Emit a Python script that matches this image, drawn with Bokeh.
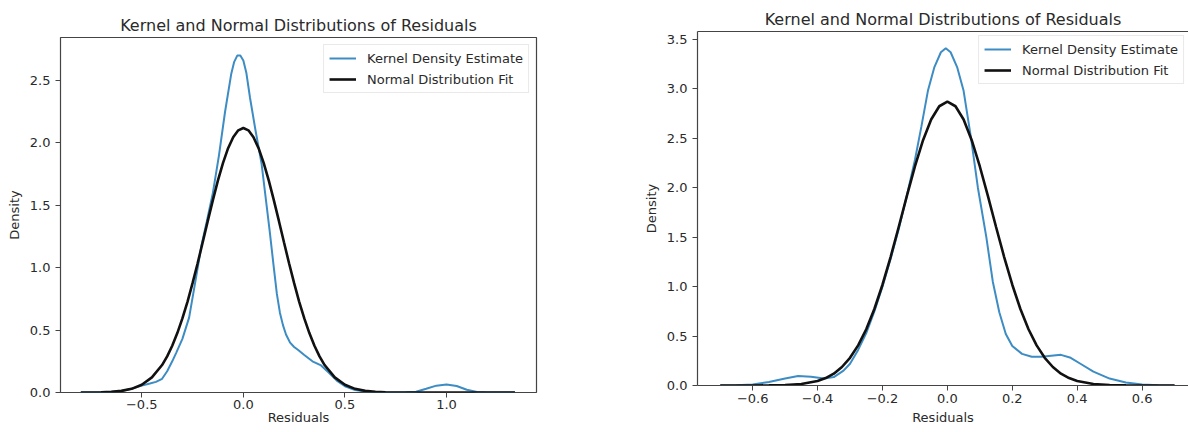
from bokeh.plotting import figure
from bokeh.layouts import row
from bokeh.models import FixedTicker, LinearAxis, Legend, LegendItem, Range1d
from bokeh.embed import file_html
from bokeh.resources import INLINE

# ---------------- data ----------------
title_text = "Kernel and Normal Distributions of Residuals"
x_label = "Residuals"
y_label = "Density"
legend_labels = ["Kernel Density Estimate", "Normal Distribution Fit"]

# left panel
left_kde_x = [-0.80, -0.70, -0.65, -0.60, -0.55, -0.50, -0.46, -0.43, -0.40, -0.375,
              -0.35, -0.33, -0.30, -0.267, -0.235, -0.206, -0.18, -0.15, -0.12, -0.09,
              -0.06, -0.045, -0.03, -0.015, 0.0, 0.015, 0.033, 0.06, 0.09, 0.11,
              0.13, 0.15, 0.165, 0.18, 0.195, 0.21, 0.23, 0.25, 0.27, 0.30, 0.34, 0.38,
              0.42, 0.46, 0.50, 0.55, 0.60, 0.65, 0.70, 0.75, 0.80, 0.85,
              0.90, 0.95, 1.00, 1.05, 1.10, 1.15, 1.20, 1.25, 1.337]
left_kde_y = [0.0, 0.002, 0.005, 0.012, 0.03, 0.055, 0.072, 0.085, 0.11, 0.17,
              0.25, 0.32, 0.43, 0.60, 0.90, 1.18, 1.37, 1.60, 1.90, 2.25,
              2.55, 2.65, 2.70, 2.70, 2.66, 2.56, 2.36, 2.10, 1.83, 1.56,
              1.29, 1.00, 0.79, 0.64, 0.54, 0.465, 0.40, 0.365, 0.34, 0.30, 0.25, 0.22,
              0.16, 0.095, 0.05, 0.02, 0.008, 0.003, 0.001, 0.001, 0.002, 0.006,
              0.03, 0.055, 0.065, 0.052, 0.022, 0.005, 0.001, 0.0, 0.0]
left_norm_x = [-0.80, -0.70, -0.65, -0.60, -0.55, -0.50, -0.45, -0.40, -0.375, -0.35,
               -0.325, -0.30, -0.275, -0.25, -0.225, -0.20, -0.175, -0.15, -0.125, -0.10,
               -0.075, -0.05, -0.025, 0.0, 0.025, 0.05, 0.075, 0.10, 0.125, 0.15,
               0.175, 0.20, 0.225, 0.25, 0.275, 0.30, 0.325, 0.35, 0.375, 0.40,
               0.45, 0.50, 0.55, 0.60, 0.65, 0.70, 0.80, 0.90, 1.10, 1.337]
left_norm_y = [0.0003, 0.0021, 0.0054, 0.013, 0.0293, 0.0617, 0.121, 0.220, 0.290, 0.375,
               0.476, 0.594, 0.727, 0.876, 1.036, 1.204, 1.375, 1.542, 1.700, 1.840,
               1.958, 2.046, 2.101, 2.120, 2.101, 2.046, 1.958, 1.840, 1.700, 1.542,
               1.375, 1.204, 1.036, 0.876, 0.727, 0.594, 0.476, 0.375, 0.290, 0.220,
               0.121, 0.0617, 0.0293, 0.013, 0.0054, 0.0021, 0.0003, 0.0, 0.0, 0.0]
left_x_ticks = [-0.5, 0.0, 0.5, 1.0]
left_x_tick_labels = ["\u22120.5", "0.0", "0.5", "1.0"]
left_y_ticks = [0.0, 0.5, 1.0, 1.5, 2.0, 2.5]
left_y_tick_labels = ["0.0", "0.5", "1.0", "1.5", "2.0", "2.5"]
left_x_limits = (-0.900, 1.443)
left_y_limits = (0.0, 2.845)

# right panel
right_kde_x = [-0.70, -0.65, -0.60, -0.55, -0.50, -0.46, -0.42, -0.38, -0.35, -0.32,
               -0.30, -0.275, -0.25, -0.225, -0.20, -0.175, -0.15, -0.125, -0.10, -0.08,
               -0.06, -0.04, -0.02, -0.005, 0.01, 0.03, 0.05, 0.073, 0.094, 0.12,
               0.14, 0.16, 0.18, 0.20, 0.23, 0.26, 0.29, 0.32, 0.35, 0.38,
               0.41, 0.45, 0.50, 0.55, 0.60, 0.65, 0.70]
right_kde_y = [0.0, 0.002, 0.01, 0.035, 0.07, 0.095, 0.088, 0.07, 0.085, 0.15,
               0.22, 0.36, 0.53, 0.75, 1.00, 1.28, 1.58, 1.92, 2.28, 2.62,
               2.98, 3.22, 3.37, 3.41, 3.37, 3.22, 2.98, 2.50, 2.00, 1.50,
               1.05, 0.74, 0.52, 0.40, 0.32, 0.29, 0.29, 0.30, 0.31, 0.28,
               0.22, 0.14, 0.07, 0.03, 0.01, 0.002, 0.0]
right_norm_x = [-0.70, -0.60, -0.55, -0.50, -0.45, -0.40, -0.375, -0.35, -0.325, -0.30,
                -0.275, -0.25, -0.225, -0.20, -0.175, -0.15, -0.125, -0.10, -0.075, -0.05,
                -0.025, 0.0, 0.025, 0.05, 0.075, 0.10, 0.125, 0.15, 0.175, 0.20,
                0.225, 0.25, 0.275, 0.30, 0.325, 0.35, 0.375, 0.40, 0.45, 0.50,
                0.55, 0.60, 0.70]
right_norm_y = [0.0, 0.0002, 0.0011, 0.0044, 0.0152, 0.0456, 0.0755, 0.120, 0.187, 0.280,
                0.406, 0.569, 0.774, 1.019, 1.299, 1.603, 1.915, 2.215, 2.481, 2.690,
                2.824, 2.870, 2.824, 2.690, 2.481, 2.215, 1.915, 1.603, 1.299, 1.019,
                0.774, 0.569, 0.406, 0.280, 0.187, 0.120, 0.0755, 0.0456, 0.0152, 0.0044,
                0.0011, 0.0002, 0.0]
right_x_ticks = [-0.6, -0.4, -0.2, 0.0, 0.2, 0.4, 0.6]
right_x_tick_labels = ["\u22120.6", "\u22120.4", "\u22120.2", "0.0", "0.2", "0.4", "0.6"]
right_y_ticks = [0.0, 0.5, 1.0, 1.5, 2.0, 2.5, 3.0, 3.5]
right_y_tick_labels = ["0.0", "0.5", "1.0", "1.5", "2.0", "2.5", "3.0", "3.5"]
right_x_limits = (-0.770, 0.743)
right_y_limits = (0.0, 3.58)

# ---------------- styling ----------------
FONT = "DejaVu Sans"
TEXT = "#2a2a2a"
SPINE = "#444444"
KDE_COLOR = "#3d8cc4"
NORM_COLOR = "#111111"
TICK_FS = "13px"
TITLE_FS = "16px"


def style_axis(ax, ticks, labels, standoff, label_standoff):
    ax.ticker = FixedTicker(ticks=ticks)
    ax.major_label_overrides = {t: s for t, s in zip(ticks, labels)}
    ax.major_tick_out = 5
    ax.major_tick_in = 0
    ax.minor_tick_out = 0
    ax.minor_tick_in = 0
    ax.major_tick_line_color = SPINE
    ax.major_tick_line_width = 1
    ax.major_label_text_font = FONT
    ax.major_label_text_font_size = TICK_FS
    ax.major_label_text_color = TEXT
    ax.major_label_standoff = standoff
    ax.axis_label_text_font = FONT
    ax.axis_label_text_font_size = TICK_FS
    ax.axis_label_text_font_style = "normal"
    ax.axis_label_text_color = TEXT
    ax.axis_label_standoff = label_standoff


def make_panel(kx, ky, nx, ny, xt, xtl, yt, ytl, xlim, ylim, width, height,
               mb_left, mb_right, mb_top, mb_bottom, full_frame,
               x_tick_standoff, x_lab_standoff, legend_margin):
    p = figure(width=width, height=height,
               x_range=Range1d(*xlim), y_range=Range1d(*ylim),
               output_backend="svg", toolbar_location=None,
               min_border_left=mb_left, min_border_right=mb_right,
               min_border_top=mb_top, min_border_bottom=mb_bottom)
    try:
        p.frame_align = False
    except Exception:
        pass
    p.xgrid.visible = False
    p.ygrid.visible = False
    p.background_fill_color = "white"
    p.border_fill_color = "white"

    p.title.text = title_text
    p.title.align = "center"
    p.title.text_font = FONT
    p.title.text_font_size = TITLE_FS
    p.title.text_font_style = "normal"
    p.title.text_color = TEXT
    p.title.standoff = 6

    style_axis(p.xaxis[0], xt, xtl, x_tick_standoff, x_lab_standoff)
    style_axis(p.yaxis[0], yt, ytl, 5, 5)
    p.xaxis[0].axis_label = x_label
    p.yaxis[0].axis_label = y_label

    if full_frame:
        p.outline_line_color = SPINE
        p.outline_line_width = 1.2
        p.outline_line_alpha = 1.0
        p.xaxis[0].axis_line_color = None
        p.yaxis[0].axis_line_color = None
    else:
        p.outline_line_color = None
        p.xaxis[0].axis_line_color = SPINE
        p.xaxis[0].axis_line_width = 1.2
        p.yaxis[0].axis_line_color = SPINE
        p.yaxis[0].axis_line_width = 1.2
        top = LinearAxis(ticker=FixedTicker(ticks=[]), axis_line_color=SPINE,
                         axis_line_width=1.2, major_tick_out=0, major_tick_in=0,
                         minor_tick_out=0, minor_tick_in=0,
                         major_label_text_font_size="0px", major_label_standoff=0)
        p.add_layout(top, "above")

    r1 = p.line(kx, ky, line_color=KDE_COLOR, line_width=2.0)
    r2 = p.line(nx, ny, line_color=NORM_COLOR, line_width=2.6)

    legend = Legend(items=[LegendItem(label=legend_labels[0], renderers=[r1]),
                           LegendItem(label=legend_labels[1], renderers=[r2])],
                    location="top_right")
    legend.margin = legend_margin
    legend.padding = 5
    legend.spacing = 5
    legend.glyph_width = 27
    legend.glyph_height = 16
    legend.label_height = 16
    legend.label_standoff = 11
    legend.label_text_font = FONT
    legend.label_text_font_size = TICK_FS
    legend.label_text_color = TEXT
    legend.border_line_color = "#d4d4d4"
    legend.border_line_width = 1
    legend.background_fill_color = "white"
    legend.background_fill_alpha = 0.85
    p.add_layout(legend)
    return p


p_left = make_panel(left_kde_x, left_kde_y, left_norm_x, left_norm_y,
                    left_x_ticks, left_x_tick_labels, left_y_ticks, left_y_tick_labels,
                    left_x_limits, left_y_limits, 610, 431,
                    60, 74, 37, 39, True, 2, -2, 7)
p_right = make_panel(right_kde_x, right_kde_y, right_norm_x, right_norm_y,
                     right_x_ticks, right_x_tick_labels, right_y_ticks, right_y_tick_labels,
                     right_x_limits, right_y_limits, 578, 431,
                     87, 0, 31, 46, False, 3, 4, 4)

layout = row(p_left, p_right)
open("out.html", "w").write(file_html(layout, INLINE))
